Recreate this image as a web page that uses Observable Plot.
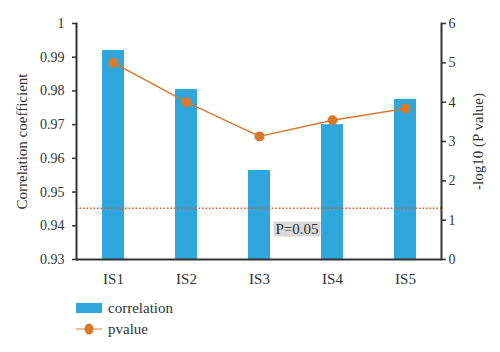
<!DOCTYPE html>
<html><head><meta charset="utf-8">
<script src="https://cdn.jsdelivr.net/npm/d3@7"></script>
<script src="https://cdn.jsdelivr.net/npm/@observablehq/plot@0.6"></script>
<style>
body{margin:0;background:#fff;font-family:"Liberation Serif","Times New Roman",serif;}
#chart{width:500px;height:352px;overflow:hidden;}
.legend{margin-left:76px;font-size:15px;color:#333;}
.row{display:flex;align-items:center;height:20px;}
.row span{margin-left:6px;}
</style>
</head><body><div id="chart"></div>
<script>
const categories = ["IS1","IS2","IS3","IS4","IS5"];
const correlation = [0.992,0.9804,0.9564,0.970,0.9775];
const pvalue = [5.0,4.0,3.13,3.54,3.84];
const leftTicks = [0.93,0.94,0.95,0.96,0.97,0.98,0.99,1];
const rightTicks = [0,1,2,3,4,5,6];
const thresholdP = 0.05;
const thresholdLabel = "P=0.05";
const labelPos = 0.78; // in -log10 units
const leftLabel = "Correlation coefficient";
const rightLabel = "-log10 (P value)";

const yMin = 0.93, yMax = 1, pMax = 6;
const toY = p => yMin + p * (yMax - yMin) / pMax;
const fromY = y => (y - yMin) * pMax / (yMax - yMin);

const data = categories.map((c,i)=>({cat:c, corr:correlation[i], p:pvalue[i]}));
const blue = "#2FA6DC", orange = "#D9782D", red = "#E4572E", ink = "#333";
const font = "'Liberation Serif', 'Times New Roman', serif";

const svg = Plot.plot({
  width: 500, height: 290,
  marginLeft: 76, marginRight: 59, marginTop: 23, marginBottom: 31,
  style: {fontFamily: font, fontSize: "14px", color: ink, background: "#fff"},
  x: {domain: categories, paddingInner: 0.7, paddingOuter: 0.35, label: null},
  y: {domain: [yMin, yMax], label: null},
  marks: [
    Plot.barY(data, {x: "cat", y1: yMin, y2: "corr", fill: blue}),
    Plot.ruleY([toY(-Math.log10(thresholdP))], {stroke: red, strokeWidth: 1.5, strokeDasharray: "1.5,2"}),
    Plot.line(data, {x: "cat", y: d => toY(d.p), stroke: orange, strokeWidth: 1.5}),
    Plot.dot(data, {x: "cat", y: d => toY(d.p), r: 5, fill: orange}),
    Plot.text([{cat: "IS3", y: toY(labelPos), t: thresholdLabel}], {x: "cat", y: "y", text: "t", dx: 37.5, fontSize: 15, fill: ink}),
    Plot.ruleY([yMin], {stroke: ink, strokeWidth: 2}),
    Plot.frame({anchor: "left", stroke: ink, strokeWidth: 2}),
    Plot.frame({anchor: "right", stroke: ink, strokeWidth: 2}),
    Plot.axisY({anchor: "left", ticks: leftTicks, tickFormat: d => d === 1 ? "1" : d.toFixed(2), tickSize: 4, tickPadding: 8, fontSize: 14, label: null, stroke: ink, strokeWidth: 1.5}),
    Plot.axisY({anchor: "right", ticks: rightTicks.map(toY), tickFormat: d => String(Math.round(fromY(d))), tickSize: 4, tickPadding: 3, fontSize: 14, label: null, stroke: ink, strokeWidth: 1.5}),
    Plot.axisX({tickSize: 0, tickPadding: 14, fontSize: 15, label: null}),
    Plot.text([leftLabel], {frameAnchor: "left", textAnchor: "middle", rotate: -90, dx: -54, fontSize: 15, fill: ink}),
    Plot.text([rightLabel], {frameAnchor: "right", textAnchor: "middle", rotate: -90, dx: 37, fontSize: 15, fill: ink})
  ]
});
svg.querySelectorAll("text").forEach(t => t.style.fontFamily = font);
const chart = document.getElementById("chart");
chart.appendChild(svg);

// grey box behind the threshold label
for (const t of svg.querySelectorAll("text")) {
  if (t.textContent === thresholdLabel) {
    const b = t.getBBox();
    const r = document.createElementNS("http://www.w3.org/2000/svg", "rect");
    r.setAttribute("x", b.x - 2); r.setAttribute("y", b.y + 1);
    r.setAttribute("width", b.width + 4); r.setAttribute("height", b.height - 1);
    r.setAttribute("fill", "#d9d9d9");
    if (t.getAttribute("transform")) r.setAttribute("transform", t.getAttribute("transform"));
    t.parentNode.insertBefore(r, t);
  }
}

const legend = document.createElement("div");
legend.className = "legend";
legend.innerHTML = `
<div class="row" style="margin-top:8px"><svg width="26" height="12"><rect x="0" y="1" width="26" height="10" fill="${blue}"/></svg><span>correlation</span></div>
<div class="row" style="margin-top:1px"><svg width="26" height="14"><line x1="0" x2="26" y1="7" y2="7" stroke="#EFA877" stroke-width="1.5"/><ellipse cx="13" cy="7" rx="4.5" ry="5.5" fill="${orange}"/></svg><span>pvalue</span></div>`;
chart.appendChild(legend);
</script>
</body></html>
